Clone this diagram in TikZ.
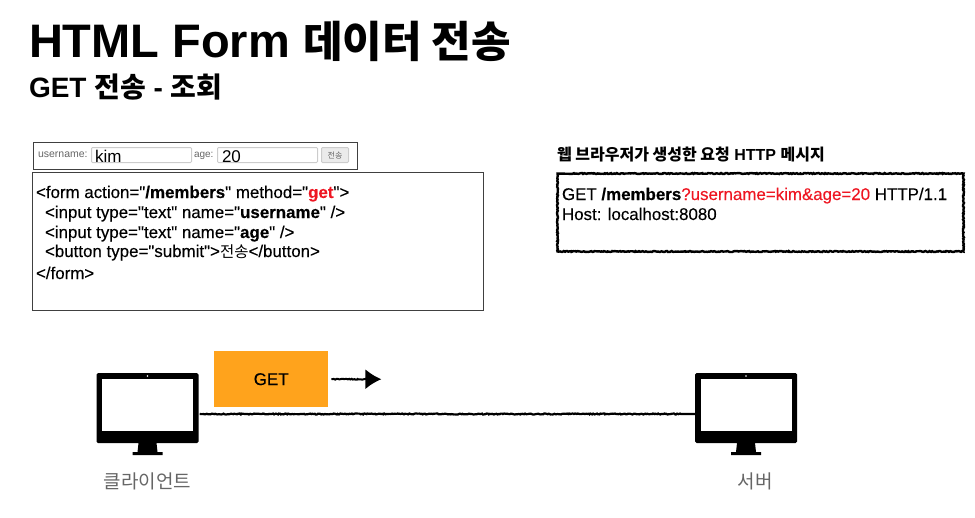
\documentclass[tikz,border=0pt]{standalone}
\usepackage{fontspec}
\setmainfont{Liberation Sans}[Ligatures=TeXOff]
\newfontfamily\kr{Noto Sans CJK KR}
\newfontfamily\codefont{Liberation Sans}[Ligatures=TeXOff, FakeBold=0.25]
\usetikzlibrary{arrows.meta, positioning, calc, decorations.pathmorphing}
\definecolor{getorange}{RGB}{255, 163, 28}
\definecolor{getred}{RGB}{238, 22, 34}
\definecolor{labelgray}{RGB}{102, 102, 102}
\definecolor{boxgray}{RGB}{64, 64, 64}
\newcommand{\codekr}[1]{{\fontsize{15.5}{15.5}\selectfont\kr #1}}
\tikzset{
  txt/.style={anchor=base west, inner sep=0pt, outer sep=0pt},
  code/.style={txt, font=\fontsize{16.9}{16.9}\selectfont\codefont},
  rough/.style={decorate, decoration={random steps, segment length=1.2pt, amplitude=0.5pt, post=lineto, post length=14pt}},
  inputbox/.style={draw=black!20, line width=1pt, fill=white, rounded corners=1pt, anchor=north west, inner sep=0pt},
  pcscreen/.style={fill=black, rounded corners=1.5pt, minimum width=102pt, minimum height=70pt, inner sep=0pt},
}
\begin{document}
\begin{tikzpicture}[x=1pt, y=-1pt]
  \useasboundingbox (0,0) rectangle (975,517);

  % Titles
  \node[txt, font=\fontsize{47}{47}\selectfont\bfseries] (title) at (29,57) {HTML Form {\fontsize{43}{43}\selectfont\kr 데이터 전송}};
  \node[txt, font=\fontsize{28}{28}\selectfont\bfseries] (subtitle) at (29,97) {GET {\kr 전송} - {\kr 조회}};

  % Rendered form
  \node[draw=boxgray, line width=0.8pt, anchor=north west, minimum width=324pt, minimum height=27pt, inner sep=0pt] (formview) at (33,141.5) {};
  \node[txt, font=\fontsize{10.5}{10.5}\selectfont, text=labelgray] (userlabel) at (38,157) {username:};
  \node[inputbox, minimum width=100pt, minimum height=15pt] (userinput) at (91,147) {};
  \node[txt, font=\fontsize{17}{17}\selectfont] (userval) at (95,162) {kim};
  \node[txt, font=\fontsize{10}{10}\selectfont, text=labelgray] (agelabel) at (194,157) {age:};
  \node[inputbox, minimum width=100pt, minimum height=15pt] (ageinput) at (217,147) {};
  \node[txt, font=\fontsize{17}{17}\selectfont] (ageval) at (222,162) {20};
  \node[inputbox, fill=black!8, minimum width=27pt, minimum height=15pt, font=\fontsize{8}{8}\selectfont\kr, text=labelgray] (submitbtn) at (321,147) {전송};

  % Form source
  \node[draw=boxgray, line width=0.8pt, anchor=north west, minimum width=451pt, minimum height=138pt, inner sep=0pt] (formcode) at (32,172) {};
  \node[code] (line1) at (36,198) {<form action="\textbf{/members}" method="\textbf{\textcolor{getred}{get}}">};
  \node[code] (line2) at (45,218) {<input type="text" name="\textbf{username}" />};
  \node[code] (line3) at (45,238) {<input type="text" name="\textbf{age}" />};
  \node[code] (line4) at (45,257) {<button type="submit">\codekr{전송}</button>};
  \node[code] (line5) at (36,279) {</form>};

  % HTTP message
  \node[txt, font=\fontsize{16}{16}\selectfont\bfseries] (msgtitle) at (557,160) {{\kr 웹 브라우저가 생성한 요청} HTTP {\kr 메시지}};
  \draw[rough, line width=2.4pt] (557.5,173.5) rectangle (963.5,251.5);
  \node[code] (msgline1) at (562,200) {GET \textbf{/members}\textcolor{getred}{?username=kim\&age=20} HTTP/1.1};
  \node[code] (msgline2) at (562,220) {Host: localhost:8080};

  % Client and server
  \foreach \pcname/\pcx/\pclabelx/\pclabel in {clientpc/147.5/0/클라이언트, serverpc/746/9/서버} {
    \begin{scope}[shift={(\pcx,0)}]
      \node[pcscreen] (\pcname) at (0,408) {};
      \fill[white] (-45.5,379) rectangle (45.5,431);
      \fill[white] (0,376) circle (0.8);
      \fill (-9,443) -- (9,443) -- (10,452) -- (15,452) -- (15,455) -- (-15,455) -- (-15,452) -- (-10,452) -- cycle;
      \node[font=\fontsize{19}{19}\selectfont\kr, text=labelgray] (\pcname label) at (\pclabelx,481) {\pclabel};
    \end{scope}
  }

  % GET box and arrows
  \node[fill=getorange, anchor=north west, minimum width=114pt, minimum height=56pt, inner sep=0pt, font=\fontsize{17}{17}\selectfont\codefont] (getbox) at (214,351) {GET};
  \coordinate[right=53pt of getbox.east] (getend);
  \draw[rough, line width=2pt, -{Latex[length=16pt,width=20pt]}] ([xshift=3pt]getbox.east) -- (getend);
  \draw[rough, line width=2.2pt] ([yshift=-6pt,xshift=1pt]clientpc.east) -- ([yshift=-6pt]serverpc.west);
\end{tikzpicture}
\end{document}
